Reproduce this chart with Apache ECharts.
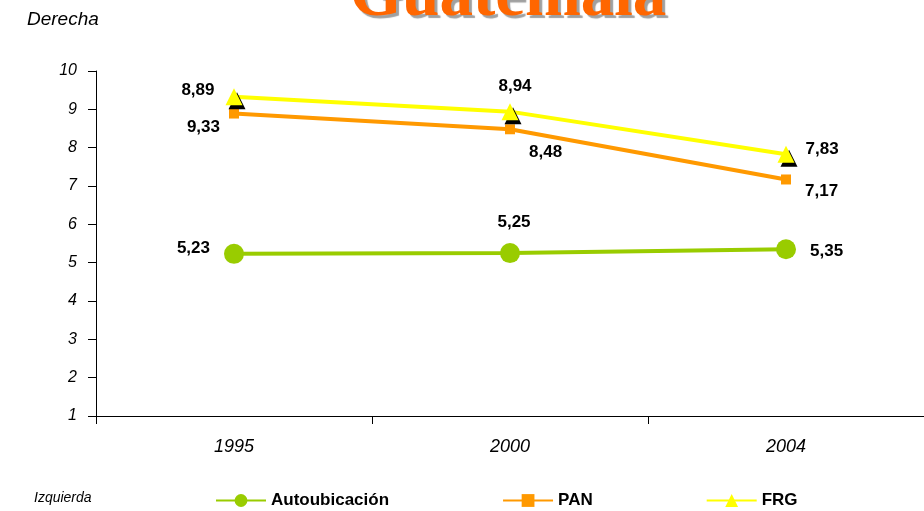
<!DOCTYPE html>
<html>
<head>
<meta charset="utf-8">
<script src="https://cdn.jsdelivr.net/npm/echarts@6/dist/echarts.min.js"></script>
<style>
  html, body { margin: 0; padding: 0; background: #fff; }
  #chart { width: 924px; height: 511px; }
</style>
</head>
<body>
<div id="chart"></div>
<script>
    // data
    const years = ['1995', '2000', '2004'];
    const autoubicacion = [5.23, 5.25, 5.35];
    const pan = [8.89, 8.48, 7.17];
    const frg = [9.33, 8.94, 7.83];
    // label texts as printed on the chart (1995 ones are swapped in the source)
    const autoLabels = ['5,23', '5,25', '5,35'];
    const panLabels = ['9,33', '8,48', '7,17'];
    const frgLabels = ['8,89', '8,94', '7,83'];

    const labelFont = {
        fontFamily: 'Liberation Sans, Arial, sans-serif',
        fontWeight: 'bold',
        fontSize: 17,
        color: '#000'
    };

    // per point label placement
    const autoPos = [
        {position: 'left', distance: 14, offset: [0, -6]},
        {position: 'top', distance: 12, offset: [4, 0]},
        {position: 'right', distance: 14, offset: [0, 2]}
    ];
    const panPos = [
        {position: 'left', distance: 9, offset: [0, 14]},
        {position: 'right', distance: 14, offset: [0, 23]},
        {position: 'right', distance: 14, offset: [0, 12]}
    ];
    const frgPos = [
        {position: 'left', distance: 11, offset: [0, -6]},
        {position: 'top', distance: 8, offset: [5, 0]},
        {position: 'right', distance: 11, offset: [0, -5]}
    ];

    function build(values, labels, pos) {
        return values.map((v, i) => ({
            value: v,
            label: Object.assign({show: true, formatter: labels[i]}, labelFont, pos[i])
        }));
    }

    let myChart = echarts.init(document.getElementById('chart'));
    let option = {
        animation: false,
        title: {
            text: 'Guatemala',
            left: 350,
            top: -36,
            padding: 0,
            textStyle: {
                fontFamily: 'Liberation Serif, Times New Roman, serif',
                fontWeight: 'bold',
                fontSize: 67,
                color: '#FF6600',
                textShadowColor: '#A0A0A0',
                textShadowOffsetX: 3,
                textShadowOffsetY: 3,
                textShadowBlur: 1
            }
        },
        graphic: [
            {
                type: 'text', left: 27, top: 10,
                style: {text: 'Derecha', font: 'italic 19px Liberation Sans, Arial, sans-serif', fill: '#000'}
            },
            {
                type: 'text', left: 34, top: 491,
                style: {text: 'Izquierda', font: 'italic 14px Liberation Sans, Arial, sans-serif', fill: '#000'}
            }
        ],
        legend: {
            left: 215,
            top: 492,
            padding: 0,
            itemWidth: 50,
            itemHeight: 16,
            itemGap: 113,
            textStyle: {
                fontFamily: 'Liberation Sans Narrow, Arial Narrow, sans-serif',
                fontWeight: 'bold',
                fontSize: 17,
                color: '#000'
            },
            data: ['Autoubicación', 'PAN', 'FRG']
        },
        grid: {left: 96, top: 71, width: 831, height: 345},
        xAxis: {
            type: 'category',
            data: years,
            boundaryGap: true,
            axisLine: {lineStyle: {color: '#000', width: 1}},
            axisTick: {show: true, length: 8, lineStyle: {color: '#000'}},
            axisLabel: {
                margin: 22,
                fontFamily: 'Liberation Sans, Arial, sans-serif',
                fontStyle: 'italic',
                fontSize: 18,
                color: '#000'
            }
        },
        yAxis: {
            type: 'value',
            min: 1,
            max: 10,
            interval: 1,
            splitLine: {show: false},
            axisLine: {show: true, lineStyle: {color: '#000', width: 1}},
            axisTick: {show: true, length: 8, lineStyle: {color: '#000'}},
            axisLabel: {
                margin: 19,
                fontFamily: 'Liberation Sans, Arial, sans-serif',
                fontStyle: 'italic',
                fontSize: 16,
                color: '#000'
            }
        },
        series: [
            {
                name: 'Autoubicación',
                type: 'line',
                data: build(autoubicacion, autoLabels, autoPos),
                symbol: 'circle',
                symbolSize: 20,
                lineStyle: {color: '#99CC00', width: 4},
                itemStyle: {color: '#99CC00'},
                z: 3
            },
            {
                name: 'PAN',
                type: 'line',
                data: build(pan, panLabels, panPos),
                symbol: 'rect',
                symbolSize: 10,
                lineStyle: {color: '#FF9900', width: 4},
                itemStyle: {color: '#FF9900'},
                z: 4
            },
            {
                name: 'FRG',
                type: 'line',
                data: build(frg, frgLabels, frgPos),
                symbol: 'triangle',
                symbolSize: 17,
                lineStyle: {color: '#FFFF00', width: 4},
                itemStyle: {
                    color: '#FFFF00',
                    shadowColor: '#000',
                    shadowOffsetX: 3,
                    shadowOffsetY: 4,
                    shadowBlur: 0
                },
                z: 5
            }
        ]
    };
    myChart.setOption(option);
</script>
</body>
</html>
